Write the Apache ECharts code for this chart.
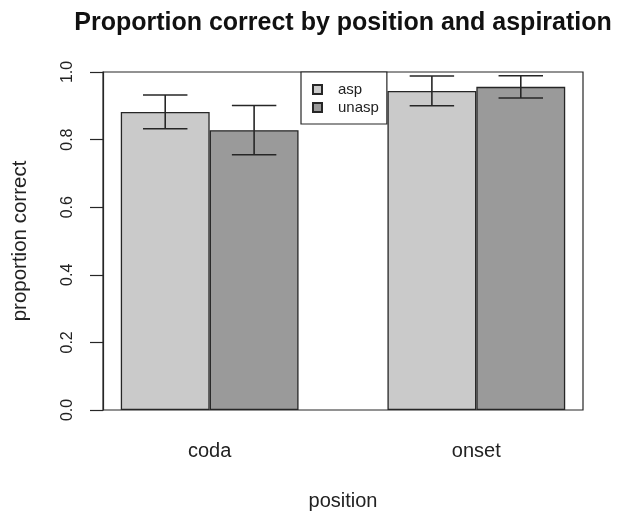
<!DOCTYPE html>
<html>
<head>
<meta charset="utf-8">
<script src="https://cdn.jsdelivr.net/npm/echarts@6/dist/echarts.min.js"></script>
<style>
  html, body { margin: 0; padding: 0; background: #fff; overflow: hidden; }
  #chart { width: 617px; height: 511px; }
</style>
</head>
<body>
<div id="chart"></div>
<script>
// Groups on the x axis and the two bar series within each group
const categories = ['coda', 'onset'];
const seriesNames = ['asp', 'unasp'];
const aspValues = [0.882, 0.944];
const unaspValues = [0.828, 0.956];
// half-width of each error bar
const aspErr = [0.050, 0.044];
const unaspErr = [0.073, 0.033];
const yTicks = [0, 0.2, 0.4, 0.6, 0.8, 1.0];

const FONT = '"Liberation Sans", Arial, sans-serif';
const INK = '#262626';

// barplot-style layout: each group is one bar-width gap followed by its bars
// bar k of group g spans [1 + 3g + k, 2 + 3g + k]
function barX(g, k) { return 1.5 + 3 * g + k; }
function groupX(g) { return 2 + 3 * g; }

const aspData = aspValues.map((v, g) => [barX(g, 0), v]);
const unaspData = unaspValues.map((v, g) => [barX(g, 1), v]);
const errData = [];
aspValues.forEach((v, g) => errData.push([barX(g, 0), v - aspErr[g], v + aspErr[g]]));
unaspValues.forEach((v, g) => errData.push([barX(g, 1), v - unaspErr[g], v + unaspErr[g]]));

const labelPos = categories.map((c, g) => groupX(g));

const chart = echarts.init(document.getElementById('chart'), null, { renderer: 'canvas', width: 617, height: 511 });

const gridLeft = 103, gridWidth = 480, gridTop = 72, gridHeight = 338;
const xMin = 0.8, xMax = 6.2;
const barPx = gridWidth / (xMax - xMin);

chart.setOption({
  animation: false,
  backgroundColor: '#ffffff',
  textStyle: { fontFamily: FONT },
  title: {
    text: 'Proportion correct by position and aspiration',
    left: 343,
    textAlign: 'center',
    top: 11,
    padding: 0,
    textStyle: { fontFamily: FONT, fontWeight: 'bold', fontSize: 25, color: '#111' }
  },
  legend: {
    data: seriesNames,
    orient: 'vertical',
    left: 301,
    top: 72,
    padding: [10, 8, 9, 11],
    itemWidth: 9,
    itemHeight: 9,
    itemGap: 3,
    icon: 'rect',
    backgroundColor: '#ffffff',
    borderColor: INK,
    borderWidth: 1.2,
    borderRadius: 0,
    textStyle: { fontFamily: FONT, fontSize: 15, color: '#222', lineHeight: 15, padding: [0, 0, 0, 11] }
  },
  grid: {
    left: gridLeft, width: gridWidth, top: gridTop, height: gridHeight,
    outerBoundsMode: 'none',
    containLabel: false,
    show: true, borderColor: INK, borderWidth: 1.2, backgroundColor: 'transparent'
  },
  xAxis: {
    type: 'value',
    min: xMin,
    max: xMax,
    name: 'position',
    nameLocation: 'middle',
    nameGap: 81,
    nameTextStyle: { fontFamily: FONT, fontSize: 20, color: '#222' },
    axisLine: { show: false },
    axisTick: { show: false },
    splitLine: { show: false },
    axisLabel: {
      customValues: labelPos,
      formatter: function (v) {
        const i = labelPos.indexOf(v);
        return i >= 0 ? categories[i] : '';
      },
      margin: 31,
      fontFamily: FONT, fontSize: 20, color: '#222'
    }
  },
  yAxis: {
    type: 'value',
    min: 0,
    max: 1,
    interval: 0.2,
    name: 'proportion correct',
    nameLocation: 'middle',
    nameRotate: 90,
    nameGap: 72,
    nameTextStyle: { fontFamily: FONT, fontSize: 20.5, color: '#222' },
    axisLine: { show: true, lineStyle: { color: INK, width: 1.2 } },
    axisTick: { show: true, length: 13, lineStyle: { color: INK, width: 1.2 } },
    splitLine: { show: false },
    axisLabel: {
      rotate: 90,
      margin: 27,
      fontFamily: FONT, fontSize: 16, color: '#222',
      formatter: function (v) { return yTicks.indexOf(v) >= 0 ? v.toFixed(1) : ''; }
    }
  },
  series: [
    {
      name: 'asp',
      type: 'bar',
      data: aspData,
      barWidth: barPx,
      barGap: '-100%',
      itemStyle: { color: '#cacaca', borderColor: INK, borderWidth: 1.3 }
    },
    {
      name: 'unasp',
      type: 'bar',
      data: unaspData,
      barWidth: barPx,
      barGap: '-100%',
      itemStyle: { color: '#9a9a9a', borderColor: INK, borderWidth: 1.3 }
    },
    {
      name: 'error',
      type: 'custom',
      data: errData,
      z: 10,
      renderItem: function (params, api) {
        const x = api.value(0);
        const lo = api.coord([x, api.value(1)]);
        const hi = api.coord([x, api.value(2)]);
        const half = barPx / 4;
        const style = { stroke: INK, lineWidth: 1.6 };
        return {
          type: 'group',
          children: [
            { type: 'line', shape: { x1: lo[0], y1: lo[1], x2: hi[0], y2: hi[1] }, style: style },
            { type: 'line', shape: { x1: lo[0] - half, y1: lo[1], x2: lo[0] + half, y2: lo[1] }, style: style },
            { type: 'line', shape: { x1: hi[0] - half, y1: hi[1], x2: hi[0] + half, y2: hi[1] }, style: style }
          ]
        };
      }
    }
  ]
});
</script>
</body>
</html>
